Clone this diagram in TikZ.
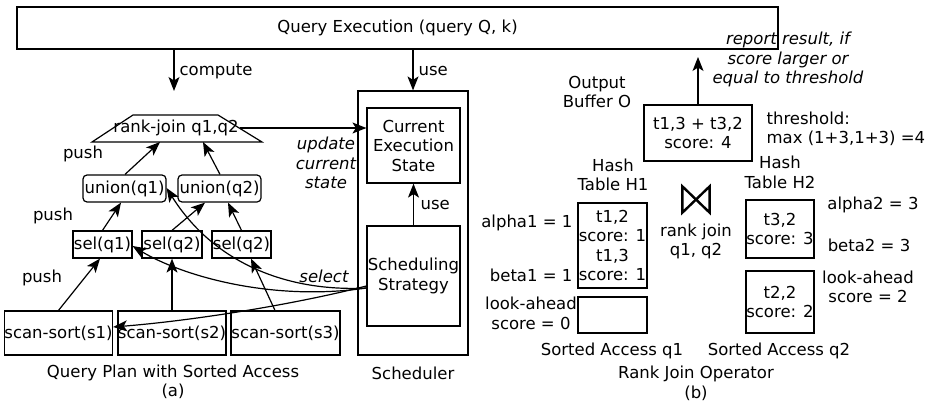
\documentclass[tikz,border=0pt]{standalone}
\usepackage{fontspec}
\setmainfont{DejaVu Sans}
\usetikzlibrary{arrows.meta}
\begin{document}
\begin{tikzpicture}[x=1pt,y=-1pt,
  font=\fontsize{16.5}{19.5}\selectfont,
  line width=1.2pt, line join=miter,
  box/.style={draw, inner sep=0pt, align=center},
  rbox/.style={box, rounded corners=4pt},
  lbl/.style={inner sep=0pt, align=center},
  ilbl/.style={lbl, font=\fontsize{16.5}{19.5}\selectfont\itshape},
  arr/.style={-{Stealth[length=14pt,width=11pt,inset=3.5pt]}}]
\useasboundingbox (0,0) rectangle (934,404);

% ---------- panel (a) ----------
\node[box, minimum width=761, minimum height=42] (qe) at (397.5,28) {Query Execution (query Q, k)};
\node[box, minimum width=110, minimum height=264] (sch) at (413,223) {};
\node[box, minimum width=93, minimum height=75] (ces) at (413.5,145.5) {Current\\Execution\\State};
\node[box, minimum width=93, minimum height=100] (ss) at (413.5,276) {Scheduling\\Strategy};

% rank-join trapezoid
\coordinate (rjbl) at (92,142);
\coordinate (rjtl) at (133,115);
\coordinate (rjtr) at (218,115);
\coordinate (rjbr) at (262,142);
\draw (rjbl) -- (rjtl) -- (rjtr) -- (rjbr) -- cycle;
\node[lbl] (rj) at (176,128) {rank-join q1,q2};
\coordinate (rjin1) at (160,142);
\coordinate (rjin2) at (203,142);
\coordinate (rjout) at (240,128);

\node[rbox, minimum width=83, minimum height=27] (u1) at (124.5,188.5) {union(q1)};
\node[rbox, minimum width=83, minimum height=27] (u2) at (219.5,188.5) {union(q2)};

\node[box, minimum width=59, minimum height=27] (sel1) at (102.5,244.5) {sel(q1)};
\node[box, minimum width=60, minimum height=27] (sel2) at (172,244.5) {sel(q2)};
\node[box, minimum width=59, minimum height=27] (sel3) at (241.5,244.5) {sel(q2)};

\node[box, minimum width=107, minimum height=44] (s1) at (58.5,333) {scan-sort(s1)};
\node[box, minimum width=108, minimum height=44] (s2) at (172,333) {scan-sort(s2)};
\node[box, minimum width=109, minimum height=44] (s3) at (285.5,333) {scan-sort(s3)};

% arrows
\coordinate (cmp) at (174,91);
\draw[arr] (qe.south -| cmp) -- (cmp);
\node[lbl, anchor=west] (lcmp) at (179,71) {compute};
\draw[arr] (qe.south -| sch.north) -- (sch.north);
\node[lbl, anchor=west] (luse1) at (418,71) {use};

\draw[arr] (rjout) -- (rjout -| ces.west);
\node[ilbl] (lupd) at (326,163) {update\\current\\state};

\draw[arr] (ss.north) -- (ces.south);
\node[lbl, anchor=west] (luse2) at (420,205) {use};

\draw[arr] (u1.north -| 125,0) -- (rjin1);
\draw[arr] (u2.north -| 220,0) -- (rjin2);
\node[lbl] (lpush1) at (83,154) {push};

\draw[arr] (sel1.north) -- (u1.south -| 121,0);
\draw[arr] (sel2.north) -- (u2.south -| 205,0);
\draw[arr] (sel3.north) -- (u2.south -| 228,0);
\node[lbl] (lpush2) at (53,216) {push};

\draw[arr] (s1.north) -- (sel1.south -| 100,0);
\draw[arr] (s2.north) -- (sel2.south);
\draw[arr] (s3.north -| 275,0) -- (sel3.south -| 251,0);
\node[lbl] (lpush3) at (42,278) {push};

% select curves
\draw[arr] (ss.west |- 0,288) .. controls (290,292) and (215,265) .. (u1.east |- 0,188);
\draw[arr] (ss.west |- 0,288) .. controls (270,302) and (180,275) .. (sel1.east |- 0,246);
\draw[arr] (ss.west |- 0,286) .. controls (300,303) and (200,320) .. (s1.east |- 0,327);
\node[ilbl] (lsel) at (324,276) {select};

\node[lbl] (lqp) at (173,382) {Query Plan with Sorted Access\\(a)};
\node[lbl] (lsch) at (413,373) {Scheduler};

% ---------- panel (b) ----------
\node[box, minimum width=108, minimum height=56] (ob) at (698,133) {t1,3 + t3,2\\score: 4};
\coordinate (rep) at (698,57);
\draw[arr] (ob.north) -- (rep);
\node[ilbl] (lrep) at (788,59.5) {report result, if\\score larger or\\equal to threshold};
\node[lbl] (lob) at (597,92) {Output\\Buffer O};
\node[lbl, align=left, anchor=west] (lthr) at (766,129) {threshold:\\max (1+3,1+3) =4};

\node[lbl] (lh1) at (613,175) {Hash\\Table H1};
\node[lbl] (lh2) at (780,172.5) {Hash\\Table H2};
% bowtie symbol
\node[inner sep=0pt, minimum width=26, minimum height=25] (bowtie) at (696,199.5) {};
\draw[line width=2.4pt, line join=miter] (bowtie.north west) -- (bowtie.south west) -- (bowtie.center) -- cycle;
\draw[line width=2.4pt, line join=miter] (bowtie.north east) -- (bowtie.south east) -- (bowtie.center) -- cycle;
\node[lbl] (lrjq) at (696,241.5) {rank join\\q1, q2};

\node[box, minimum width=69, minimum height=85] (h1a) at (612.5,245.5) {t1,2\\score: 1\\t1,3\\score: 1};
\node[box, minimum width=69, minimum height=36] (h1b) at (612.5,315) {};
\node[lbl, anchor=east] (la1) at (573,223) {alpha1 = 1};
\node[lbl, anchor=east] (lb1) at (573,275) {beta1 = 1};
\node[lbl] (ll1) at (531,313.5) {look-ahead\\score = 0};

\node[box, minimum width=68, minimum height=58] (h2a) at (780,229) {t3,2\\score: 3};
\node[box, minimum width=68, minimum height=62] (h2b) at (780,302) {t2,2\\score: 2};
\node[lbl] (la2) at (873,205) {alpha2 = 3};
\node[lbl] (lb2) at (869,245) {beta2 = 3};
\node[lbl] (ll2) at (868,287) {look-ahead\\score = 2};

\node[lbl] (lsa1) at (612,351) {Sorted Access q1};
\node[lbl] (lsa2) at (779,351) {Sorted Access q2};
\node[lbl] (lrjo) at (696,383.5) {Rank Join Operator\\(b)};
\end{tikzpicture}
\end{document}
